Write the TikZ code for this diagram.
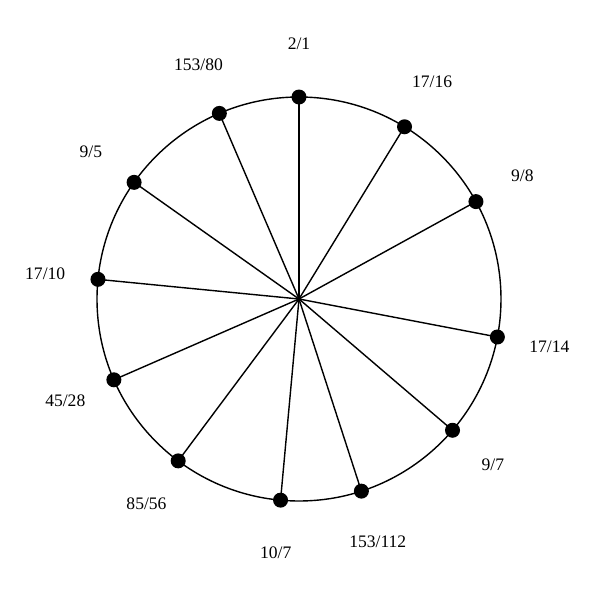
\documentclass[tikz,border=0pt]{standalone}
\usepackage{fontspec}
\setmainfont{Liberation Serif}
\begin{document}
\begin{tikzpicture}[line width=0.8pt,
  dot/.style={circle, fill=black, inner sep=0pt, minimum size=0.3cm},
  lab/.style={font=\fontsize{10pt}{12pt}\selectfont, inner sep=0pt}]
\useasboundingbox (-5.98,-6.02) rectangle (6.02,5.98);
\coordinate (o) at (0,0);
\draw (o) circle (4.04);
\foreach \n/\a/\t in {a/90/2\slash 1, b/58.51/17\slash 16, c/28.83/9\slash 8,
  d/-10.84/17\slash 14, e/-40.53/9\slash 7, f/-72.01/153\slash 112,
  g/-95.24/10\slash 7, h/-126.73/85\slash 56, i/-156.42/45\slash 28,
  j/174.41/17\slash 10, k/144.72/9\slash 5, l/113.23/153\slash 80}
{
  \node[dot] (\n) at (\a:4.04) {};
  \node[lab] (\n l) at (\a:5.1) {\t};
  \draw (o) -- (\n.center);
}
\end{tikzpicture}
\end{document}
